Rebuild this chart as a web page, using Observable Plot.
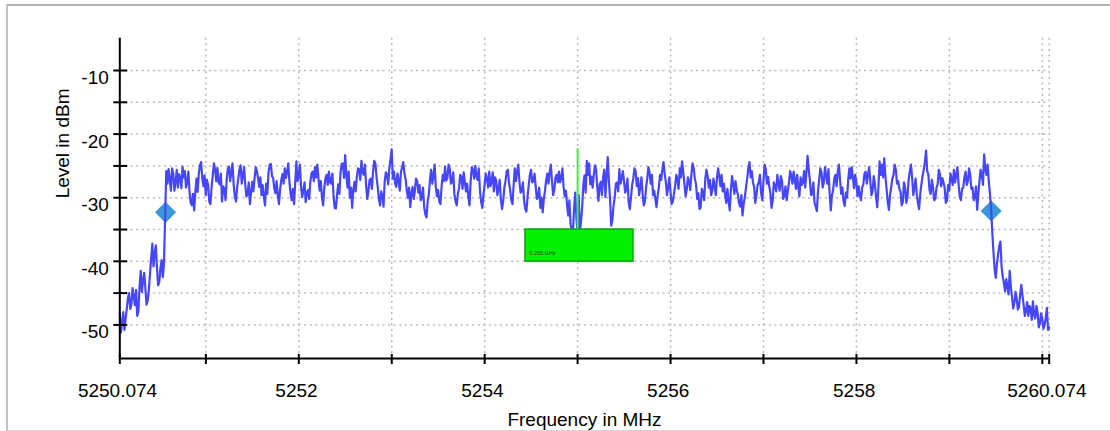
<!DOCTYPE html>
<html><head><meta charset="utf-8">
<script src="https://cdn.jsdelivr.net/npm/d3@7"></script>
<script src="https://cdn.jsdelivr.net/npm/@observablehq/plot@0.6"></script>
<style>
html,body{margin:0;padding:0;background:#fff;}
#wrap{position:relative;width:1110px;height:431px;overflow:hidden;}
#frame{position:absolute;left:6px;top:4px;width:1200px;height:424px;border-top:2px solid #b4b4b4;border-left:2px solid #c4c4c4;border-bottom:1px solid #d4d4d4;}
#chart{position:absolute;left:0;top:0;}
</style></head>
<body><div id="wrap"><div id="frame"></div><div id="chart"></div></div>
<script>
// Sweep: start frequency and step (MHz) of the main measured points
const sweepStart = 5250.074;
const sweepStep = 0.025;
// Measured level (dBm) at each main sweep point
const levels = [
-48.2,-49.6,-50.8,-47.5,-45.0,-46.8,-45.5,-44.5,-47.8,-41.5,-43.0,-44.2,-46.2,-42.0,-37.2,-38.8,-41.0,-43.2,-39.8,-40.5,
-25.8,-25.5,-28.9,-26.2,-27.6,-28.4,-26.8,-25.1,-25.8,-27.6,-29.0,-31.2,-32.0,-27.0,-26.2,-24.4,-28.2,-29.6,-28.0,-31.0,
-26.5,-25.6,-25.3,-27.9,-30.6,-28.6,-27.2,-25.1,-26.0,-27.9,-30.6,-27.0,-24.9,-26.4,-28.0,-29.4,-31.0,-27.5,-27.0,-25.8,
-28.3,-29.6,-29.8,-27.8,-26.0,-24.7,-26.9,-29.3,-29.6,-28.7,-26.3,-25.4,-25.9,-27.5,-30.4,-31.0,-24.3,-26.5,-28.2,-28.9,
-30.7,-28.8,-27.5,-25.9,-25.2,-24.8,-28.9,-29.9,-28.5,-26.4,-25.9,-27.8,-29.8,-31.7,-27.9,-26.0,-24.6,-23.3,-28.4,-30.0,-31.6,
-27.5,-26.8,-25.5,-24.2,-26.4,-28.0,-29.0,-27.0,-25.9,-24.6,-28.3,-31.2,-29.8,-27.5,-26.4,-25.4,-22.4,-25.9,-28.3,-27.3,
-26.0,-24.4,-27.0,-30.0,-31.5,-28.3,-28.9,-27.4,-28.0,-29.9,-31.5,-33.1,-29.5,-25.6,-26.5,-28.3,-28.8,-31.0,-26.4,-25.1,
-26.9,-25.5,-27.5,-29.4,-31.2,-28.5,-26.7,-26.0,-29.0,-29.9,-27.4,-25.6,-25.0,-27.2,-28.9,-31.6,-28.0,-26.9,-25.9,-27.5,
-29.0,-27.3,-28.6,-30.3,-30.6,-27.4,-25.6,-28.8,-31.0,-25.4,-25.9,-27.5,-29.0,-30.4,-32.2,-28.0,-25.6,-27.4,-28.3,-29.8,
-31.6,-32.3,-28.9,-26.2,-26.0,-27.4,-28.8,-26.4,-25.9,-26.9,-28.3,-28.9,-32.8,-34.2,-35.5,-29.2,-35.5,-35.5,-31.5,-26.5,-24.2,-24.6,
-26.7,-26.4,-25.6,-30.5,-27.5,-26.8,-29.9,-23.6,-30.2,-33.5,-30.0,-27.6,-25.5,-27.0,-27.4,-28.6,-30.7,-30.0,-27.0,-25.8,
-26.9,-28.4,-29.4,-30.6,-27.0,-26.0,-26.4,-28.9,-31.5,-28.4,-27.2,-24.4,-27.5,-28.4,-29.0,-30.6,-28.2,-27.1,-25.4,-24.3,
-27.8,-28.7,-27.4,-26.4,-25.4,-27.9,-29.3,-31.5,-29.2,-27.0,-26.6,-27.2,-28.9,-28.1,-26.9,-26.7,-26.4,-27.8,-30.8,-30.5,
-28.8,-27.9,-27.4,-29.5,-31.4,-32.8,-29.9,-27.0,-24.4,-25.8,-28.3,-29.6,-27.6,-29.2,-27.6,-25.5,-26.7,-29.3,-30.4,-28.2,
-26.4,-28.9,-27.4,-29.7,-30.4,-27.6,-26.6,-25.9,-28.6,-28.3,-26.8,-27.6,-28.4,-23.4,-27.2,-29.4,-30.8,-32.1,-27.2,-26.0,-27.6,
-26.5,-25.5,-32.0,-28.8,-26.4,-25.9,-27.4,-28.4,-31.3,-30.0,-25.4,-25.2,-28.5,-27.6,-28.2,-30.4,-27.9,-25.9,-26.4,-27.4,
-28.9,-27.9,-31.5,-24.3,-24.8,-23.8,-28.6,-31.9,-28.4,-26.4,-25.6,-27.4,-29.0,-30.7,-28.4,-29.9,-25.9,-26.9,-28.4,-29.4,
-31.8,-27.9,-25.6,-22.6,-26.4,-29.4,-28.4,-30.2,-27.9,-26.4,-26.9,-28.4,-30.4,-28.9,-27.0,-25.6,-26.4,-27.9,-30.4,-28.4,
-25.9,-27.4,-26.4,-28.4,-29.9,-31.9,-27.4,-26.4,-23.2,-26.4,-27.4,-31.8,-38.5,-42.6,-38.9,-36.9,-42.4,-44.7,-44.0,-41.5,
-45.6,-46.6,-45.8,-47.2,-43.7,-46.8,-47.8,-48.6,-47.3,-46.3,-49.0,-48.0,-49.8,-49.0,-50.0,-47.3,-50.4
];
// Measured level (dBm) at the sweep points halfway between the main ones
const levelsMid = [
-51.2,-48.0,-49.0,-45.8,-47.5,-44.2,-46.9,-48.6,-44.0,-44.8,-41.8,-46.8,-44.5,-39.5,-40.8,-37.5,-43.8,-41.0,-42.5,-33.0,
-27.8,-27.2,-25.4,-28.9,-25.6,-26.3,-28.5,-26.8,-28.4,-25.9,-30.8,-29.4,-29.2,-29.1,-24.9,-27.0,-26.5,-27.2,-30.6,-28.4,
-24.6,-27.4,-27.6,-26.2,-28.2,-30.4,-25.4,-27.4,-24.6,-29.8,-28.4,-25.6,-27.8,-25.2,-29.8,-27.6,-29.2,-29.0,-25.2,-27.0,
-26.8,-28.0,-31.2,-29.4,-24.8,-26.6,-28.6,-27.4,-31.0,-27.2,-27.8,-26.9,-24.6,-29.4,-28.6,-27.6,-27.4,-24.8,-29.9,-27.6,
-29.2,-30.2,-26.2,-27.4,-26.8,-26.9,-27.4,-31.2,-27.0,-28.0,-27.6,-26.2,-31.6,-29.6,-29.4,-24.7,-26.9,-26.4,-25.9,-28.4,-28.8,
-29.0,-25.4,-27.2,-26.0,-24.8,-30.2,-27.2,-28.6,-24.2,-26.8,-30.2,-29.0,-31.4,-26.0,-27.9,-24.0,-27.0,-27.8,-26.2,-28.9,
-25.2,-26.2,-28.8,-28.4,-29.4,-30.2,-27.0,-29.2,-30.4,-28.4,-32.6,-30.6,-27.2,-27.8,-24.8,-29.8,-30.6,-28.2,-27.4,-27.3,
-24.8,-27.8,-26.0,-30.6,-29.4,-26.4,-28.6,-27.6,-27.8,-31.2,-25.2,-27.0,-26.6,-25.4,-30.6,-29.6,-26.2,-28.4,-28.2,-26.0,
-26.8,-29.6,-27.2,-31.8,-28.4,-25.9,-27.6,-30.4,-28.0,-27.4,-24.8,-29.2,-27.6,-31.8,-29.8,-26.4,-27.6,-26.2,-30.2,-28.4,
-30.0,-30.2,-27.2,-27.8,-24.8,-29.6,-26.8,-27.6,-27.6,-25.4,-29.8,-31.2,-30.4,-35.0,-31.8,-33.0,-29.6,-33.8,-28.0,-29.2,-26.4,-27.9,
-28.4,-24.9,-28.4,-28.0,-29.6,-25.6,-26.4,-27.4,-34.4,-31.2,-27.8,-29.0,-27.8,-25.8,-29.2,-27.0,-31.8,-28.0,-25.4,-28.2,
-29.6,-26.8,-31.2,-28.4,-25.2,-27.8,-29.6,-30.2,-29.6,-26.4,-25.6,-26.2,-29.6,-26.8,-31.0,-29.4,-26.4,-28.6,-26.8,-26.0,
-29.8,-26.8,-28.8,-24.6,-27.0,-30.2,-31.8,-28.6,-30.4,-25.6,-28.4,-29.6,-27.0,-29.6,-25.4,-28.2,-29.0,-29.6,-28.6,-32.0,
-26.6,-29.4,-28.8,-30.8,-29.6,-31.0,-28.4,-25.4,-26.8,-27.6,-30.8,-28.0,-26.4,-30.4,-24.8,-27.8,-28.2,-31.6,-27.6,-29.0,
-27.8,-26.6,-30.2,-28.2,-29.0,-25.8,-27.8,-27.2,-26.4,-29.8,-28.0,-25.8,-26.0,-25.6,-29.6,-27.6,-31.4,-29.0,-25.4,-28.4,-25.2,
-27.8,-29.4,-29.6,-27.0,-28.2,-24.8,-29.4,-30.6,-29.2,-27.2,-27.0,-26.8,-26.4,-29.8,-29.6,-28.4,-26.2,-27.8,-25.2,-29.6,
-26.6,-30.0,-28.4,-26.4,-26.8,-26.6,-30.6,-29.6,-27.0,-24.8,-27.8,-28.6,-31.2,-27.6,-30.8,-27.2,-24.8,-29.6,-27.0,-30.8,
-29.4,-26.6,-24.4,-25.8,-28.8,-27.2,-30.4,-28.4,-25.6,-28.2,-27.6,-30.8,-28.0,-26.2,-28.0,-27.6,-25.2,-29.8,-28.6,-26.8,
-28.0,-25.4,-28.6,-30.4,-28.2,-29.4,-25.6,-28.0,-25.4,-24.8,-29.4,-35.4,-41.2,-40.4,-37.6,-40.8,-43.4,-42.8,-45.2,-44.0,
-47.4,-44.8,-47.6,-45.2,-45.4,-48.6,-46.4,-47.0,-49.2,-48.4,-47.0,-50.4,-48.2,-50.6,-49.0,-50.8
];
// Axis domains
const freqDomain = [5250.074, 5260.074];
const levelDomain = [-55.28, -4.92];
// Ticks and labels
const xTickValues = [5250.074, 5251, 5252, 5253, 5254, 5255, 5256, 5257, 5258, 5259, 5260, 5260.074];
const xLabelValues = [5250.074, 5252, 5254, 5256, 5258, 5260.074];
const xLabelTexts = ["5250.074", "5252", "5254", "5256", "5258", "5260.074"];
const yTickValues = [-50, -45, -40, -35, -30, -25, -20, -15, -10];
const yLabelValues = [-50, -40, -30, -20, -10];
const yLabelTexts = ["-50", "-40", "-30", "-20", "-10"];
const xTitle = "Frequency in MHz";
const yTitle = "Level in dBm";
// Bandwidth edge markers
const edgeFreqs = [5250.566, 5259.45];
const edgeLevels = [-32.3, -32.1];
// Center marker
const markerFreq = [5255.0];
const markerTop = [-22.3];
const markerBottom = [-35.0];
const markerBoxX = [5254.439, 5255.601];
const markerBoxY = [-35.0, -40.05];
const markerLabel = ["5.255 GHz"];
const markerLabelPos = [5254.48, -38.75];

const spectrum = [];
levels.forEach((v, i) => {
  spectrum.push({freq: sweepStart + i * sweepStep, level: v});
  if (i < levelsMid.length) spectrum.push({freq: sweepStart + (i + 0.5) * sweepStep, level: levelsMid[i]});
});
const edges = edgeFreqs.map((f, i) => ({freq: f, level: edgeLevels[i]}));
const marker = markerFreq.map((f, i) => ({freq: f, top: markerTop[i], bottom: markerBottom[i]}));
const box = [{x1: markerBoxX[0], x2: markerBoxX[1], y1: markerBoxY[0], y2: markerBoxY[1]}];
const boxLabel = [{x: markerLabelPos[0], y: markerLabelPos[1], text: markerLabel[0]}];

const gridStyle = {stroke: "#b8b8b8", strokeOpacity: 1, strokeWidth: 1.5, strokeDasharray: "2,3.6"};

const chart = Plot.plot({
  width: 1110, height: 431,
  marginLeft: 119.3, marginRight: 61.3, marginTop: 37.7, marginBottom: 73,
  x: {domain: freqDomain, axis: null},
  y: {domain: levelDomain, axis: null},
  style: {fontFamily: "'Liberation Sans', Arial, sans-serif", fontSize: "19px", color: "#000", background: "transparent", overflow: "visible"},
  marks: [
    Plot.ruleX(xTickValues, {x: d => d, ...gridStyle}),
    Plot.ruleY(yTickValues, {y: d => d, ...gridStyle}),
    Plot.dot(edges, {x: "freq", y: "level", symbol: "diamond2", r: 9.5, fill: "#3a98d8", stroke: null}),
    Plot.line(spectrum, {x: "freq", y: "level", stroke: "#4646ff", strokeWidth: 2.2}),
    Plot.ruleX(marker, {x: "freq", y1: "top", y2: "bottom", stroke: "#44ee44", strokeWidth: 2}),
    Plot.rect(box, {x1: "x1", x2: "x2", y1: "y1", y2: "y2", fill: "#00f000", stroke: "#00a800", strokeWidth: 1.5}),
    Plot.text(boxLabel, {x: "x", y: "y", text: "text", fontSize: 5.5, textAnchor: "start", fill: "#224422"}),
    Plot.ruleX([freqDomain[0]], {x: d => d, stroke: "#000", strokeWidth: 2}),
    Plot.ruleY([levelDomain[0]], {y: d => d, stroke: "#000", strokeWidth: 2}),
    Plot.ruleX(xTickValues, {x: d => d, y1: levelDomain[0], y2: levelDomain[0], insetTop: -4, insetBottom: -6, stroke: "#000", strokeWidth: 2}),
    Plot.ruleY(yTickValues, {y: d => d, x1: freqDomain[0], x2: freqDomain[0], insetLeft: -6, insetRight: -8, stroke: "#000", strokeWidth: 2}),
    Plot.text(xLabelValues, {x: d => d, text: (d, i) => xLabelTexts[i], frameAnchor: "bottom", lineAnchor: "top", dy: 24.7, dx: -2.3, fontSize: 19, fill: "#000"}),
    Plot.text(yLabelValues, {y: d => d, text: (d, i) => yLabelTexts[i], frameAnchor: "left", textAnchor: "end", lineAnchor: "top", dx: -11, fontSize: 19, fill: "#000"}),
    Plot.text([xTitle], {text: d => d, frameAnchor: "bottom", lineAnchor: "top", dy: 54, fontSize: 19, fill: "#000"}),
    Plot.text([yTitle], {text: d => d, frameAnchor: "left", rotate: -90, lineAnchor: "middle", dx: -57, fontSize: 19, fill: "#000"})
  ]
});
document.getElementById("chart").appendChild(chart);
</script>
</body></html>
